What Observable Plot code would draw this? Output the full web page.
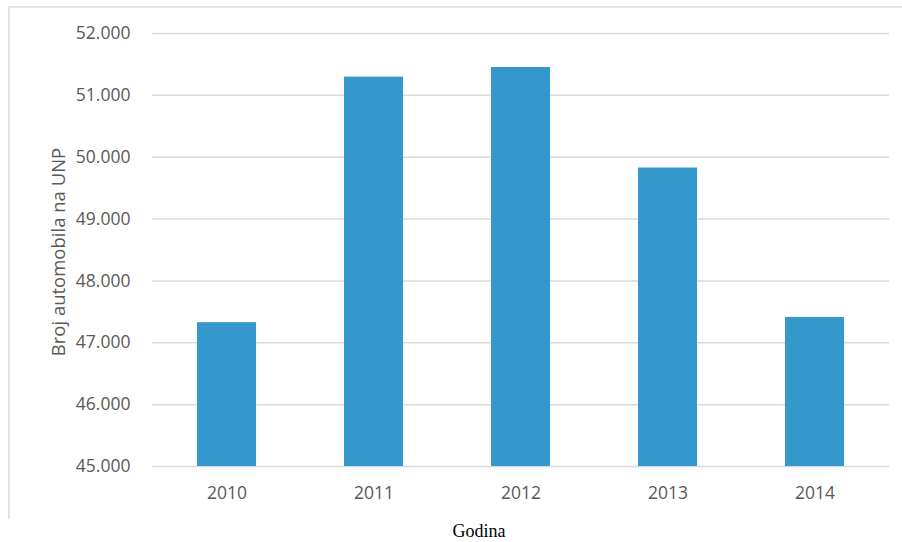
<!DOCTYPE html>
<html>
<head>
<meta charset="utf-8">
<script src="https://cdn.jsdelivr.net/npm/d3@7"></script>
<script src="https://cdn.jsdelivr.net/npm/@observablehq/plot@0.6"></script>
<style>
  html, body { margin: 0; padding: 0; background: #fff; }
  #wrap { position: relative; width: 902px; height: 542px; overflow: hidden; }
  #wrap svg { position: absolute; left: 0; top: 0; }
  .bt { position: absolute; left: 8px; top: 6px; width: 894px; height: 2px; background: #e3e3e3; }
  .bl { position: absolute; left: 8px; top: 6px; width: 2px; height: 513px; background: #e3e3e3; }
  #ylab { position: absolute; left: 57px; top: 252px; transform: translate(-50%, -50%) rotate(-90deg);
          font-family: "Open Sans", sans-serif; font-size: 18.5px; color: #595959; white-space: nowrap; }
  #xlab { position: absolute; left: 479px; top: 531px; transform: translate(-50%, -50%);
          font-family: "Liberation Serif", "DejaVu Serif", serif; font-size: 18px; color: #000; white-space: nowrap; }
</style>
</head>
<body>
<div id="wrap">
  <div class="bt"></div>
  <div class="bl"></div>
  <div id="ylab">Broj automobila na UNP</div>
  <div id="xlab">Godina</div>
</div>
<script>
const years = ["2010", "2011", "2012", "2013", "2014"];
const values = [47325, 51295, 51450, 49825, 47410];
const yTicks = [45000, 46000, 47000, 48000, 49000, 50000, 51000, 52000];

const data = years.map((y, i) => ({year: y, value: values[i]}));
const fmt = d => d3.format(",")(d).replace(/,/g, ".");

const chart = Plot.plot({
  width: 902,
  height: 542,
  marginLeft: 152,
  marginRight: 13,
  marginTop: 33,
  marginBottom: 76,
  style: {background: "transparent", fontFamily: "Open Sans, sans-serif"},
  x: {domain: years, paddingInner: 0.6, paddingOuter: 0.3, label: null},
  y: {domain: [45000, 52000], label: null},
  marks: [
    Plot.gridY(yTicks, {stroke: "#d9d9d9", strokeOpacity: 1, strokeWidth: 1.5}),
    Plot.barY(data, {x: "year", y1: 45000, y2: "value", fill: "#3598cc"}),
    Plot.axisY(yTicks, {tickSize: 0, tickPadding: 22, tickFormat: fmt, fontSize: 17.5, fill: "#595959", label: null}),
    Plot.axisX({tickSize: 0, tickPadding: 20, fontSize: 17.5, fill: "#595959", label: null})
  ]
});
document.getElementById("wrap").prepend(chart);
</script>
</body>
</html>
